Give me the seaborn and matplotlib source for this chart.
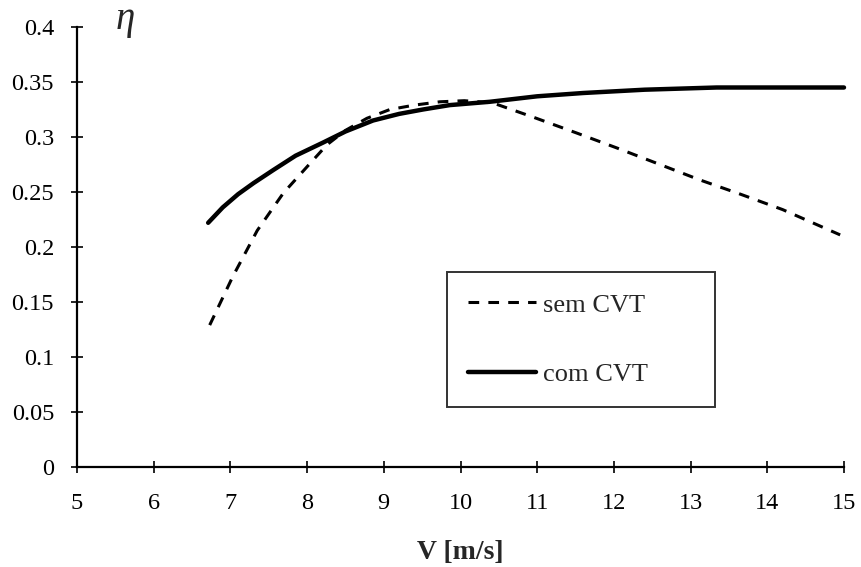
import matplotlib
matplotlib.use("Agg")
import matplotlib.pyplot as plt
import seaborn as sns
import pandas as pd

v_sem = [6.73, 7.03, 7.35, 7.69, 8.0, 8.26, 8.5, 8.78, 9.08, 9.4, 9.73, 10.05, 10.42, 10.95, 11.5, 12.04, 12.6, 13.12, 13.65, 14.2, 14.95]
eta_sem = [0.129, 0.173, 0.215, 0.249, 0.273, 0.293, 0.306, 0.317, 0.325, 0.329, 0.332, 0.333, 0.331, 0.318, 0.304, 0.290, 0.275, 0.261, 0.248, 0.234, 0.211]
v_com = [6.71, 6.9, 7.1, 7.3, 7.56, 7.85, 8.21, 8.5, 8.86, 9.2, 9.51, 9.86, 10.38, 11.0, 11.6, 12.4, 13.34, 14.2, 15.0]
eta_com = [0.222, 0.236, 0.248, 0.258, 0.270, 0.283, 0.295, 0.305, 0.315, 0.321, 0.325, 0.329, 0.332, 0.337, 0.340, 0.343, 0.345, 0.345, 0.345]

x_ticks = [5, 6, 7, 8, 9, 10, 11, 12, 13, 14, 15]
y_ticks = [0, 0.05, 0.1, 0.15, 0.2, 0.25, 0.3, 0.35, 0.4]
y_labels = ["0", "0.05", "0.1", "0.15", "0.2", "0.25", "0.3", "0.35", "0.4"]

sns.set_style("ticks")
plt.rcParams["font.family"] = ["Liberation Serif", "DejaVu Serif"]

df_sem = pd.DataFrame({"V": v_sem, "eta": eta_sem})
df_com = pd.DataFrame({"V": v_com, "eta": eta_com})

fig = plt.figure(figsize=(8.61, 5.67), dpi=100)
ax = fig.add_axes([77/861, 1 - 467/567, 767/861, 440/567])

sns.lineplot(data=df_sem, x="V", y="eta", ax=ax, color="black",
             linewidth=2.2, linestyle=(0, (3.5, 3)), label="sem CVT", estimator=None, sort=False)
sns.lineplot(data=df_com, x="V", y="eta", ax=ax, color="black",
             linewidth=3.2, linestyle="-", label="com CVT", estimator=None, sort=False)

ax.set_xlim(5, 15)
ax.set_ylim(0, 0.4)
ax.set_xticks(x_ticks)
ax.set_xticklabels([str(t) for t in x_ticks])
ax.set_yticks(y_ticks)
ax.set_yticklabels(y_labels)
ax.tick_params(axis="both", direction="inout", length=9, width=1.2, labelsize=17.5, colors="black")
ax.tick_params(axis="x", pad=14)
ax.tick_params(axis="y", pad=12)
for s in ["top", "right"]:
    ax.spines[s].set_visible(False)
for s in ["left", "bottom"]:
    ax.spines[s].set_linewidth(1.6)
    ax.spines[s].set_color("black")
for l in ax.lines:
    l.set_clip_on(False)

ax.set_xlabel("V [m/s]", fontsize=20, fontweight="bold", labelpad=19)
ax.set_ylabel("")
ax.text(5.63, 0.407, "η", fontsize=28, style="italic", ha="center", va="center")

leg = ax.legend(loc="upper left", bbox_to_anchor=(0.482, 0.136, 0.35, 0.307), mode="expand",
                frameon=True, fancybox=False, edgecolor="black", fontsize=19,
                handlelength=2.6, handletextpad=0.25, labelspacing=1.75,
                borderpad=0.8, borderaxespad=0)
leg.get_frame().set_linewidth(1.4)

fig.savefig("out.png", dpi=100)
